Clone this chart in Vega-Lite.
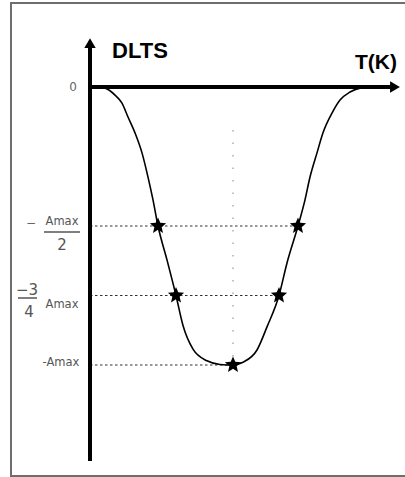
{
  "$schema": "https://vega.github.io/schema/vega-lite/v6.json",
  "width": 405,
  "height": 477,
  "padding": 0,
  "autosize": {"type": "fit", "contains": "padding"},
  "background": "white",
  "config": {"view": {"stroke": null}},
  "datasets": {
    "curve": [
      {"T": 0, "S": 0}, {"T": 5, "S": 0}, {"T": 15, "S": -0.004}, {"T": 25, "S": -0.029},
      {"T": 32, "S": -0.058}, {"T": 38, "S": -0.108}, {"T": 45, "S": -0.165}, {"T": 52, "S": -0.237},
      {"T": 58, "S": -0.324}, {"T": 63, "S": -0.406}, {"T": 68, "S": -0.5}, {"T": 77, "S": -0.622},
      {"T": 86, "S": -0.75}, {"T": 93, "S": -0.858}, {"T": 103, "S": -0.943}, {"T": 117, "S": -0.985},
      {"T": 130, "S": -0.998}, {"T": 143, "S": -1.0}, {"T": 153, "S": -0.99}, {"T": 167, "S": -0.946},
      {"T": 177, "S": -0.863}, {"T": 189, "S": -0.75}, {"T": 197, "S": -0.633}, {"T": 208, "S": -0.5},
      {"T": 215, "S": -0.406}, {"T": 220, "S": -0.324}, {"T": 227, "S": -0.237}, {"T": 233, "S": -0.165},
      {"T": 242, "S": -0.094}, {"T": 250, "S": -0.047}, {"T": 260, "S": -0.018}, {"T": 270, "S": -0.004},
      {"T": 282, "S": 0}
    ],
    "stars": [
      {"T": 68, "S": -0.5}, {"T": 208, "S": -0.5},
      {"T": 86, "S": -0.75}, {"T": 189, "S": -0.75},
      {"T": 143, "S": -1.0}
    ],
    "levels": [
      {"T1": 0, "T2": 208, "S": -0.5},
      {"T1": 0, "T2": 189, "S": -0.75},
      {"T1": 0, "T2": 143, "S": -1.0}
    ],
    "peak": [{"T": 143, "S1": -0.155, "S2": -1.0}],
    "axes": [
      {"T1": 0, "T2": 0, "S1": -1.345, "S2": 0.15},
      {"T1": 0, "T2": 303, "S1": 0, "S2": 0}
    ],
    "arrowUp": [{"T": 0, "S": 0.158}],
    "arrowRight": [{"T": 305, "S": 0}],
    "frame": [{"T1": -79, "T2": 330, "S1": 0.302, "S2": -1.399}],
    "titleLeft": [{"T": 22, "S": 0.128, "label": "DLTS"}],
    "titleRight": [{"T": 307, "S": 0.086, "label": "T(K)"}],
    "labelsSmall": [
      {"T": -28, "S": -0.486, "label": "Amax"},
      {"T": -28, "S": -0.784, "label": "Amax"},
      {"T": -29, "S": -0.993, "label": "-Amax"}
    ],
    "labelsMid": [
      {"T": -17, "S": 0, "label": "0"},
      {"T": -59, "S": -0.489, "label": "−"}
    ],
    "labelsBig": [
      {"T": -28, "S": -0.568, "label": "2"},
      {"T": -63, "S": -0.73, "label": "−3"},
      {"T": -61, "S": -0.808, "label": "4"}
    ],
    "fractions": [
      {"T1": -46, "T2": -10, "S": -0.522},
      {"T1": -72, "T2": -53, "S": -0.759}
    ]
  },
  "encoding": {},
  "layer": [
    {
      "data": {"name": "frame"},
      "mark": {"type": "rect", "fill": "white", "fillOpacity": 0, "stroke": "#6e6e6e", "strokeWidth": 2, "clip": true},
      "encoding": {
        "x": {"field": "T1", "type": "quantitative", "scale": {"domain": [-90, 315], "nice": false, "zero": false}, "axis": null},
        "x2": {"field": "T2"},
        "y": {"field": "S1", "type": "quantitative", "scale": {"domain": [-1.4029, 0.3129], "nice": false, "zero": false}, "axis": null},
        "y2": {"field": "S2"}
      }
    },
    {
      "data": {"name": "levels"},
      "mark": {"type": "rule", "color": "#333", "strokeWidth": 1.2, "strokeDash": [2.5, 2.5]},
      "encoding": {
        "x": {"field": "T1", "type": "quantitative"},
        "x2": {"field": "T2"},
        "y": {"field": "S", "type": "quantitative"}
      }
    },
    {
      "data": {"name": "peak"},
      "mark": {"type": "rule", "color": "#999", "strokeWidth": 1.2, "strokeDash": [1.5, 11]},
      "encoding": {
        "x": {"field": "T", "type": "quantitative"},
        "y": {"field": "S1", "type": "quantitative"},
        "y2": {"field": "S2"}
      }
    },
    {
      "data": {"name": "axes"},
      "mark": {"type": "rule", "color": "black", "strokeWidth": 4},
      "encoding": {
        "x": {"field": "T1", "type": "quantitative"},
        "x2": {"field": "T2"},
        "y": {"field": "S1", "type": "quantitative"},
        "y2": {"field": "S2"}
      }
    },
    {
      "data": {"name": "arrowUp"},
      "mark": {"type": "point", "shape": "triangle-up", "filled": true, "color": "black", "opacity": 1, "size": 130},
      "encoding": {
        "x": {"field": "T", "type": "quantitative"},
        "y": {"field": "S", "type": "quantitative"}
      }
    },
    {
      "data": {"name": "arrowRight"},
      "mark": {"type": "point", "shape": "triangle-right", "filled": true, "color": "black", "opacity": 1, "size": 130},
      "encoding": {
        "x": {"field": "T", "type": "quantitative"},
        "y": {"field": "S", "type": "quantitative"}
      }
    },
    {
      "data": {"name": "curve"},
      "mark": {"type": "line", "color": "black", "strokeWidth": 1.6, "interpolate": "monotone"},
      "encoding": {
        "x": {"field": "T", "type": "quantitative"},
        "y": {"field": "S", "type": "quantitative"}
      }
    },
    {
      "data": {"name": "stars"},
      "mark": {"type": "point", "shape": "M0,-1L0.27,-0.37L0.951,-0.309L0.43,0.14L0.588,0.809L0,0.45L-0.588,0.809L-0.43,0.14L-0.951,-0.309L-0.27,-0.37Z", "filled": true, "color": "black", "opacity": 1, "size": 290},
      "encoding": {
        "x": {"field": "T", "type": "quantitative"},
        "y": {"field": "S", "type": "quantitative"}
      }
    },
    {
      "data": {"name": "titleLeft"},
      "mark": {"type": "text", "font": "Liberation Sans", "fontWeight": "bold", "fontSize": 22, "color": "black", "baseline": "middle", "align": "left"},
      "encoding": {
        "x": {"field": "T", "type": "quantitative"},
        "y": {"field": "S", "type": "quantitative"},
        "text": {"field": "label"}
      }
    },
    {
      "data": {"name": "titleRight"},
      "mark": {"type": "text", "font": "Liberation Sans", "fontWeight": "bold", "fontSize": 21, "color": "black", "baseline": "middle", "align": "right"},
      "encoding": {
        "x": {"field": "T", "type": "quantitative"},
        "y": {"field": "S", "type": "quantitative"},
        "text": {"field": "label"}
      }
    },
    {
      "data": {"name": "labelsSmall"},
      "mark": {"type": "text", "font": "DejaVu Sans", "fontSize": 11.5, "color": "#555", "baseline": "middle", "align": "center"},
      "encoding": {
        "x": {"field": "T", "type": "quantitative"},
        "y": {"field": "S", "type": "quantitative"},
        "text": {"field": "label"}
      }
    },
    {
      "data": {"name": "labelsMid"},
      "mark": {"type": "text", "font": "DejaVu Sans", "fontSize": 12, "color": "#666", "baseline": "middle", "align": "center"},
      "encoding": {
        "x": {"field": "T", "type": "quantitative"},
        "y": {"field": "S", "type": "quantitative"},
        "text": {"field": "label"}
      }
    },
    {
      "data": {"name": "labelsBig"},
      "mark": {"type": "text", "font": "DejaVu Sans", "fontSize": 15, "color": "#555", "baseline": "middle", "align": "center"},
      "encoding": {
        "x": {"field": "T", "type": "quantitative"},
        "y": {"field": "S", "type": "quantitative"},
        "text": {"field": "label"}
      }
    },
    {
      "data": {"name": "fractions"},
      "mark": {"type": "rule", "color": "#555", "strokeWidth": 1.5},
      "encoding": {
        "x": {"field": "T1", "type": "quantitative"},
        "x2": {"field": "T2"},
        "y": {"field": "S", "type": "quantitative"}
      }
    }
  ]
}
